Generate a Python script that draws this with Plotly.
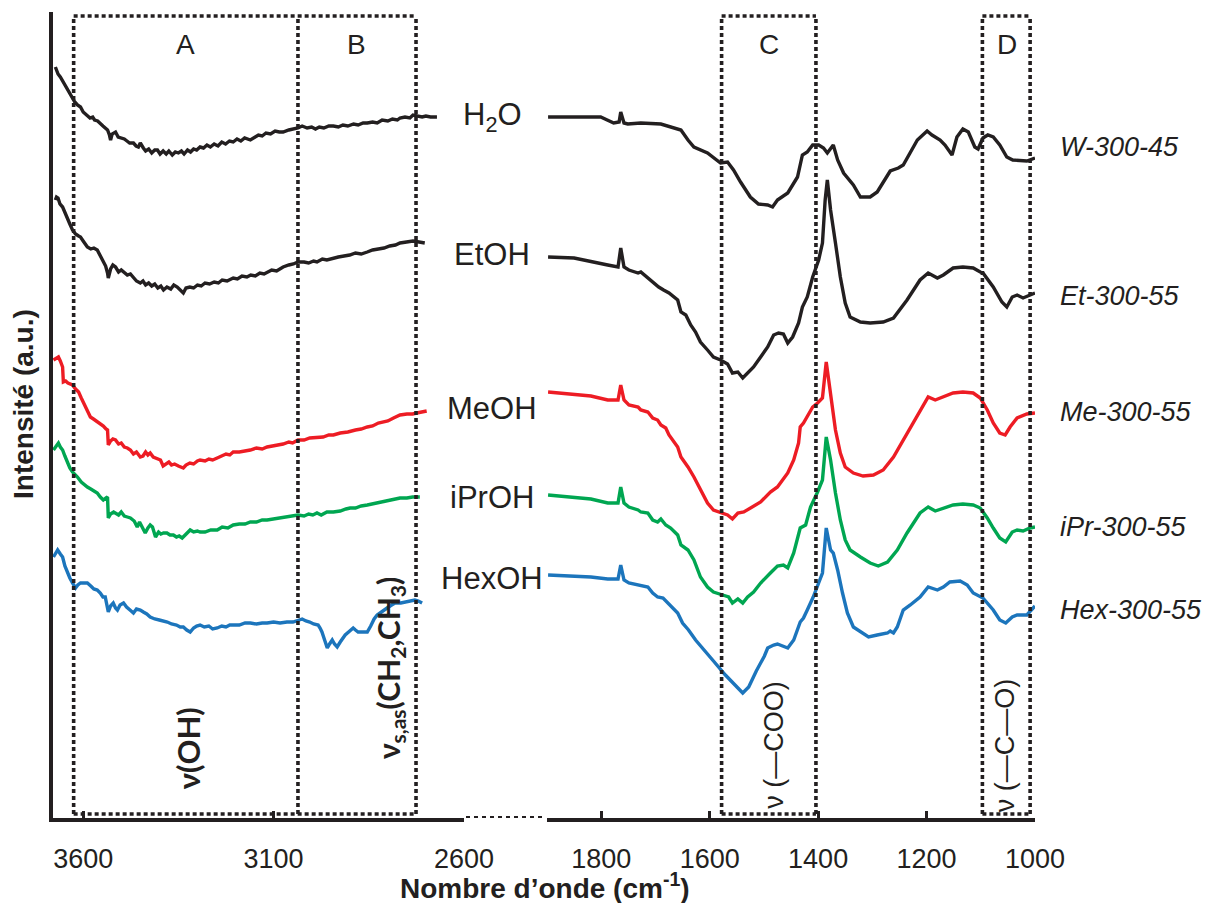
import plotly.graph_objects as go

# ---------------- data: left panel, (wavenumber cm-1, intensity a.u.) readings ----------------
w_left = [(3673, 751), (3670, 748), (3666, 744), (3660, 741), (3654, 737), (3648, 733), (3640, 728),
          (3634, 725), (3628, 721), (3622, 716), (3615, 713), (3607, 711), (3600, 706), (3594, 704),
          (3589, 703), (3582, 700), (3575, 701), (3570, 698), (3562, 697), (3555, 695), (3548, 692),
          (3542, 690), (3536, 688), (3531, 683), (3528, 678), (3524, 684), (3515, 686), (3508, 681),
          (3500, 680), (3492, 679), (3485, 677), (3478, 675), (3468, 675), (3461, 672), (3455, 671),
          (3450, 675), (3442, 670), (3436, 667), (3428, 669), (3420, 665), (3412, 668), (3405, 668),
          (3398, 664), (3390, 667), (3382, 664), (3375, 667), (3366, 663), (3358, 666), (3350, 665),
          (3342, 667), (3335, 664), (3326, 668), (3318, 666), (3310, 669), (3302, 668), (3293, 671),
          (3284, 670), (3275, 673), (3266, 671), (3256, 674), (3246, 672), (3236, 676), (3226, 674),
          (3216, 677), (3206, 676), (3196, 679), (3186, 677), (3176, 680), (3161, 678), (3150, 681),
          (3140, 683), (3130, 682), (3120, 685), (3108, 684), (3096, 687), (3085, 686), (3075, 686),
          (3060, 688), (3050, 689), (3036, 690), (3025, 692), (3012, 690), (3000, 691), (2990, 689),
          (2980, 691), (2968, 690), (2955, 692), (2943, 692), (2930, 691), (2918, 693), (2905, 692),
          (2890, 694), (2878, 693), (2865, 695), (2854, 695), (2840, 696), (2828, 695), (2815, 698),
          (2800, 697), (2788, 699), (2775, 698), (2768, 700), (2755, 701), (2742, 700), (2734, 703),
          (2722, 702), (2710, 701), (2700, 702), (2688, 701), (2671, 701)]

et_left = [(3673, 618), (3670, 621), (3666, 620), (3661, 614), (3654, 611), (3648, 605), (3641, 598),
           (3635, 594), (3628, 588), (3620, 584), (3612, 582), (3607, 581), (3600, 577), (3594, 574),
           (3589, 571), (3580, 569), (3572, 570), (3563, 568), (3556, 563), (3547, 558), (3541, 552),
           (3536, 545), (3534, 540), (3528, 549), (3522, 553), (3515, 551), (3507, 546), (3500, 548),
           (3492, 545), (3484, 543), (3476, 544), (3468, 540), (3460, 537), (3450, 535), (3443, 537),
           (3436, 533), (3428, 535), (3420, 532), (3412, 534), (3404, 530), (3396, 532), (3389, 528),
           (3380, 531), (3370, 529), (3362, 533), (3353, 531), (3345, 528), (3337, 525), (3330, 530),
           (3320, 531), (3310, 530), (3300, 533), (3290, 532), (3280, 535), (3268, 534), (3256, 536),
           (3245, 535), (3235, 538), (3222, 537), (3206, 540), (3195, 539), (3183, 542), (3170, 541),
           (3160, 543), (3148, 542), (3136, 545), (3125, 544), (3117, 546), (3105, 548), (3092, 547),
           (3075, 551), (3060, 553), (3048, 554), (3036, 556), (3020, 556), (3008, 555), (2995, 557),
           (2986, 556), (2972, 559), (2960, 558), (2943, 560), (2930, 561), (2915, 562), (2900, 563),
           (2885, 565), (2870, 564), (2854, 566), (2840, 568), (2825, 569), (2810, 570), (2795, 572),
           (2780, 573), (2768, 575), (2752, 576), (2734, 577), (2718, 576), (2703, 575)]

me_left = [(3678, 458), (3672, 459), (3665, 461), (3660, 457), (3654, 451), (3652, 436), (3646, 437),
           (3640, 435), (3634, 434), (3628, 433), (3620, 429), (3612, 426), (3605, 420), (3599, 415),
           (3592, 410), (3587, 406), (3581, 401), (3573, 399), (3565, 397), (3555, 395), (3547, 392),
           (3540, 389), (3536, 388), (3534, 373), (3528, 377), (3522, 379), (3515, 378), (3507, 374),
           (3500, 375), (3492, 371), (3484, 370), (3476, 368), (3468, 364), (3460, 366), (3450, 361),
           (3443, 362), (3436, 366), (3430, 363), (3424, 365), (3416, 361), (3408, 360), (3400, 359),
           (3397, 358), (3390, 352), (3383, 354), (3375, 356), (3368, 353), (3360, 354), (3350, 352),
           (3342, 351), (3337, 350), (3330, 353), (3320, 355), (3310, 354), (3300, 357), (3293, 358),
           (3280, 357), (3270, 359), (3260, 358), (3248, 360), (3236, 362), (3225, 364), (3215, 363),
           (3206, 366), (3190, 366), (3175, 367), (3161, 368), (3145, 370), (3130, 369), (3117, 371),
           (3100, 372), (3090, 373), (3075, 374), (3060, 376), (3050, 375), (3036, 378), (3020, 378),
           (3005, 380), (2986, 381), (2970, 381), (2955, 383), (2943, 383), (2925, 385), (2905, 386),
           (2885, 388), (2870, 389), (2854, 391), (2840, 392), (2825, 395), (2812, 396), (2800, 397),
           (2785, 400), (2768, 403), (2750, 404), (2735, 404), (2724, 405), (2710, 406), (2698, 407)]

ipr_left = [(3678, 368), (3672, 372), (3665, 375), (3660, 371), (3654, 368), (3648, 362), (3641, 355),
            (3635, 350), (3628, 346), (3620, 343), (3615, 341), (3605, 336), (3597, 333), (3589, 331),
            (3580, 329), (3572, 327), (3563, 325), (3555, 321), (3547, 318), (3540, 320), (3536, 321),
            (3534, 300), (3528, 304), (3520, 306), (3515, 305), (3507, 303), (3500, 306), (3492, 302),
            (3484, 301), (3476, 300), (3466, 297), (3458, 291), (3452, 296), (3446, 291), (3437, 285),
            (3430, 290), (3424, 293), (3418, 291), (3410, 281), (3402, 286), (3396, 284), (3389, 285),
            (3380, 285), (3372, 283), (3363, 283), (3355, 281), (3348, 282), (3340, 280), (3330, 284),
            (3319, 288), (3310, 286), (3300, 287), (3293, 286), (3280, 286), (3265, 288), (3248, 288),
            (3235, 291), (3220, 290), (3206, 293), (3190, 294), (3175, 294), (3161, 296), (3145, 296),
            (3130, 298), (3117, 298), (3100, 299), (3088, 300), (3075, 300), (3060, 301), (3048, 302),
            (3036, 303), (3020, 302), (3008, 304), (2997, 303), (2986, 305), (2975, 303), (2960, 306),
            (2943, 306), (2925, 307), (2910, 309), (2899, 310), (2885, 310), (2870, 312), (2854, 313),
            (2840, 314), (2825, 315), (2812, 316), (2795, 318), (2780, 319), (2768, 320), (2750, 320),
            (2735, 321), (2716, 321)]

hex_left = [(3678, 261), (3672, 265), (3667, 268), (3660, 264), (3654, 261), (3648, 252), (3641, 245),
            (3635, 240), (3628, 235), (3620, 230), (3614, 233), (3607, 235), (3598, 235), (3589, 235),
            (3580, 232), (3572, 229), (3563, 228), (3555, 225), (3548, 221), (3542, 221), (3534, 206),
            (3528, 212), (3521, 215), (3515, 210), (3510, 208), (3503, 213), (3494, 215), (3486, 211),
            (3477, 208), (3468, 205), (3460, 209), (3450, 208), (3442, 206), (3433, 204), (3424, 201),
            (3412, 199), (3400, 198), (3390, 197), (3379, 196), (3368, 194), (3355, 193), (3345, 191),
            (3337, 191), (3328, 188), (3319, 186), (3310, 190), (3302, 192), (3293, 193), (3282, 191),
            (3270, 192), (3260, 189), (3248, 190), (3236, 192), (3225, 191), (3215, 193), (3206, 193),
            (3190, 193), (3175, 195), (3161, 195), (3145, 194), (3130, 195), (3117, 195), (3100, 196),
            (3083, 195), (3065, 196), (3049, 196), (3035, 198), (3025, 199), (3015, 197), (3005, 196),
            (2995, 194), (2983, 193), (2978, 190), (2973, 186), (2966, 178), (2959, 170), (2953, 174),
            (2946, 178), (2940, 174), (2933, 171), (2925, 176), (2912, 183), (2900, 187), (2891, 190),
            (2885, 188), (2878, 186), (2866, 186), (2854, 186), (2845, 192), (2836, 199), (2828, 203),
            (2815, 207), (2802, 210), (2790, 213), (2781, 215), (2766, 215), (2750, 216), (2740, 217),
            (2729, 218), (2720, 217), (2710, 215)]

# ---------------- data: right panel ----------------
wn_w_right = [1898, 1850, 1801, 1777, 1767, 1764, 1758, 1751, 1727, 1690, 1666, 1653, 1640, 1629, 1604,
              1580, 1567, 1556, 1543, 1525, 1510, 1493, 1484, 1475, 1456, 1438, 1429, 1420, 1410, 1399,
              1390, 1383, 1372, 1364, 1353, 1335, 1322, 1304, 1291, 1267, 1252, 1243, 1217, 1199, 1190,
              1175, 1166, 1153, 1144, 1133, 1123, 1111, 1105, 1096, 1087, 1077, 1065, 1052, 1041, 1015,
              1000]
int_w_right = [701, 701, 701, 695, 696, 706, 695, 694, 695, 694, 690, 688, 678, 671, 665,
               655, 656, 648, 636, 621, 614, 613, 611, 618, 625, 641, 663, 666, 673, 673,
               670, 665, 673, 658, 645, 633, 621, 621, 626, 647, 650, 653, 678, 687, 683,
               678, 673, 663, 681, 689, 686, 671, 669, 680, 683, 681, 673, 661, 658, 657,
               660]

wn_et_right = [1898, 1850, 1788, 1769, 1764, 1758, 1749, 1732, 1727, 1714, 1703, 1694, 1685, 1675, 1659,
               1653, 1644, 1635, 1626, 1617, 1604, 1593, 1580, 1567, 1558, 1548, 1539, 1530, 1519, 1506,
               1493, 1482, 1473, 1464, 1456, 1447, 1436, 1429, 1420, 1410, 1399, 1392, 1387, 1383, 1377,
               1368, 1359, 1350, 1341, 1322, 1304, 1280, 1261, 1236, 1212, 1197, 1180, 1169, 1151, 1133,
               1114, 1101, 1096, 1077, 1061, 1052, 1042, 1033, 1022, 1009, 1000]
int_et_right = [561, 560, 553, 551, 570, 551, 548, 545, 546, 540, 536, 531, 528, 525, 518,
                506, 503, 493, 486, 476, 468, 461, 458, 454, 445, 446, 440, 445, 451, 461,
                471, 483, 485, 484, 475, 481, 495, 511, 521, 541, 558, 575, 618, 638, 608,
                575, 541, 515, 501, 496, 495, 496, 500, 518, 538, 545, 540, 543, 550, 551,
                550, 546, 545, 531, 516, 511, 521, 523, 520, 523, 525]

wn_me_right = [1898, 1850, 1819, 1788, 1769, 1764, 1758, 1749, 1732, 1727, 1714, 1705, 1696, 1690, 1681,
               1675, 1666, 1659, 1653, 1640, 1629, 1617, 1604, 1593, 1576, 1567, 1558, 1548, 1537, 1525,
               1506, 1488, 1475, 1456, 1445, 1436, 1433, 1427, 1420, 1410, 1401, 1392, 1385, 1377, 1368,
               1359, 1350, 1335, 1317, 1298, 1280, 1261, 1236, 1212, 1197, 1184, 1169, 1151, 1133, 1114,
               1101, 1088, 1077, 1065, 1055, 1046, 1033, 1015, 1000]
int_me_right = [426, 424, 422, 418, 418, 433, 418, 413, 411, 408, 406, 400, 398, 393, 390,
                383, 376, 371, 361, 351, 341, 328, 315, 308, 305, 303, 299, 305, 306, 310,
                316, 326, 331, 345, 358, 375, 391, 395, 401, 411, 415, 420, 456, 425, 388,
                365, 351, 345, 342, 343, 348, 361, 385, 408, 421, 418, 421, 425, 426, 425,
                420, 408, 395, 385, 383, 391, 400, 404, 405]

wn_ipr_right = [1898, 1850, 1819, 1788, 1769, 1764, 1758, 1749, 1732, 1727, 1714, 1705, 1696, 1690, 1681,
                1672, 1659, 1653, 1640, 1629, 1617, 1604, 1593, 1576, 1565, 1558, 1548, 1539, 1530, 1519,
                1506, 1488, 1475, 1464, 1456, 1445, 1436, 1433, 1423, 1414, 1401, 1392, 1385, 1377, 1368,
                1359, 1350, 1341, 1322, 1304, 1289, 1272, 1254, 1236, 1212, 1197, 1184, 1169, 1151, 1133,
                1114, 1101, 1088, 1077, 1065, 1054, 1042, 1033, 1022, 1009, 1000]
int_ipr_right = [323, 321, 319, 315, 315, 331, 315, 311, 308, 306, 305, 298, 296, 299, 293,
                 290, 283, 273, 268, 258, 241, 231, 226, 223, 221, 215, 219, 215, 221, 226,
                 235, 245, 252, 253, 250, 265, 285, 290, 293, 311, 326, 338, 381, 358, 325,
                 298, 278, 268, 261, 255, 252, 256, 268, 285, 305, 311, 307, 310, 313, 314,
                 313, 310, 300, 290, 280, 276, 286, 288, 287, 290, 291]

wn_hex_right = [1898, 1850, 1819, 1788, 1769, 1764, 1758, 1749, 1732, 1714, 1705, 1696, 1686, 1677, 1668,
                1659, 1650, 1639, 1626, 1611, 1593, 1571, 1552, 1539, 1528, 1514, 1499, 1493, 1482, 1475,
                1456, 1445, 1433, 1427, 1420, 1409, 1399, 1392, 1385, 1377, 1372, 1364, 1355, 1346, 1335,
                1322, 1307, 1291, 1272, 1267, 1261, 1254, 1243, 1230, 1212, 1197, 1180, 1169, 1157, 1138,
                1125, 1114, 1096, 1077, 1065, 1054, 1042, 1033, 1015, 1000]
int_hex_right = [243, 242, 241, 239, 239, 253, 238, 235, 233, 231, 225, 221, 220, 215, 210,
                 205, 195, 188, 178, 168, 157, 143, 133, 125, 131, 147, 162, 170, 173, 174,
                 170, 178, 196, 200, 208, 221, 235, 245, 290, 268, 265, 248, 225, 205, 191,
                 186, 181, 183, 185, 187, 185, 191, 208, 213, 221, 231, 228, 231, 236, 237,
                 233, 225, 220, 208, 198, 195, 201, 203, 203, 212]

solvents = ["H<sub>2</sub>O", "EtOH", "MeOH", "iPrOH", "HexOH"]
samples = ["W-300-45", "Et-300-55", "Me-300-55", "iPr-300-55", "Hex-300-55"]
colors = ["#231f20", "#231f20", "#ed1c24", "#00a651", "#1c75bc"]

left_tickvals = [3600, 3100, 2600]
right_tickvals = [1800, 1600, 1400, 1200, 1000]

# region boxes (cm-1)
box_A = (3625, 3036)
box_B = (3036, 2726)
box_C = (1578, 1404)
box_D = (1097, 1009)
box_top, box_bot = 802, 4

left_series = [list(zip(*s)) for s in (w_left, et_left, me_left, ipr_left, hex_left)]
right_series = [(wn_w_right, int_w_right), (wn_et_right, int_et_right), (wn_me_right, int_me_right),
                (wn_ipr_right, int_ipr_right), (wn_hex_right, int_hex_right)]

W, H = 1212, 903
INK = "#231f20"
FONT = "Liberation Sans, Arial, sans-serif"

fig = go.Figure()
for (x, y), c, name in zip(left_series, colors, samples):
    fig.add_trace(go.Scatter(x=list(x), y=list(y), mode="lines", line=dict(color=c, width=3.4),
                             xaxis="x", yaxis="y", name=name, showlegend=False))
for (x, y), c, name in zip(right_series, colors, samples):
    fig.add_trace(go.Scatter(x=x, y=y, mode="lines", line=dict(color=c, width=3.4),
                             xaxis="x2", yaxis="y", name=name, showlegend=False))

dom_l = [52.7 / W, 464 / W]
dom_r = [547 / W, 1035 / W]
axis_common = dict(showgrid=False, zeroline=False, showline=True, linecolor=INK, linewidth=4,
                   ticks="inside", ticklen=7, tickwidth=3, tickcolor=INK, automargin=False,
                   ticklabelstandoff=14,
                   tickfont=dict(family=FONT, size=27, color=INK), anchor="y")
fig.update_layout(
    width=W, height=H, margin=dict(l=0, r=0, t=0, b=0, pad=0, autoexpand=False),
    paper_bgcolor="white", plot_bgcolor="white",
    xaxis=dict(domain=dom_l, range=[3680, 2600], tickvals=left_tickvals, **axis_common),
    xaxis2=dict(domain=dom_r, range=[1900, 1000], tickvals=right_tickvals, **axis_common),
    yaxis=dict(domain=[85 / H, 1 - 12 / H], range=[0, 806], showgrid=False, zeroline=False,
               showline=True, linecolor=INK, linewidth=4, showticklabels=False, ticks="",
               automargin=False),
)

dot = dict(color=INK, width=3.6, dash="4px,3px")
shapes = []
def vline(xref, x):
    shapes.append(dict(type="line", xref=xref, yref="y", x0=x, x1=x, y0=box_bot, y1=box_top, line=dot))
def hline(xref, xa, xb, y):
    shapes.append(dict(type="line", xref=xref, yref="y", x0=xa, x1=xb, y0=y, y1=y, line=dot))

vline("x", box_A[0]); vline("x", box_A[1]); vline("x", box_B[1])
hline("x", box_A[0], box_B[1], box_top); hline("x", box_A[0], box_B[1], box_bot)
vline("x2", box_C[0]); vline("x2", box_C[1])
hline("x2", box_C[0], box_C[1], box_top); hline("x2", box_C[0], box_C[1], box_bot)
vline("x2", box_D[0]); vline("x2", box_D[1])
hline("x2", box_D[0], box_D[1], box_top); hline("x2", box_D[0], box_D[1], box_bot)
# axis break
shapes.append(dict(type="line", xref="paper", yref="y", x0=466 / W, x1=545 / W, y0=0, y1=0,
                   line=dict(color=INK, width=4, dash="4px,4px")))
fig.update_layout(shapes=shapes)

C = dict(xanchor="center", yanchor="middle", showarrow=False)
ann = []
for lab, xr, xv in [("A", "x", 3332), ("B", "x", 2883), ("C", "x2", 1491), ("D", "x2", 1052)]:
    ann.append(dict(text=lab, xref=xr, yref="y", x=xv, y=773,
                    font=dict(family=FONT, size=28, color=INK), **C))

solvent_y = [117, 255, 408, 498, 578]
for t, py in zip(solvents, solvent_y):
    ann.append(dict(text=t, xref="paper", yref="paper", x=492 / W, y=1 - py / H,
                    font=dict(family=FONT, size=31, color=INK), **C))

sample_y = [147, 296, 412, 527, 610]
for t, py in zip(samples, sample_y):
    ann.append(dict(text="<i>" + t + "</i>", xref="paper", yref="paper", x=1058 / W, y=1 - py / H,
                    showarrow=False, xanchor="left", yanchor="middle",
                    font=dict(family=FONT, size=27, color=INK)))

BOLD = "Lato, Liberation Sans, sans-serif"
ann += [
    dict(text="<b>ν(OH)</b>", xref="x", yref="y", x=3324, y=70, textangle=-90,
         font=dict(family=BOLD, size=31, color=INK), **C),
    dict(text="<b>ν<sub>s,as</sub>(CH<sub>2</sub>,CH<sub>3</sub>)</b>", xref="x", yref="y", x=2794, y=150,
         textangle=-90, font=dict(family=BOLD, size=30, color=INK), **C),
    dict(text="ν (—COO)", xref="x2", yref="y", x=1482, y=73, textangle=-90,
         font=dict(family=FONT, size=27, color=INK), **C),
    dict(text="ν (—C—O)", xref="x2", yref="y", x=1055, y=72, textangle=-90,
         font=dict(family=FONT, size=27, color=INK), **C),
    dict(text="<b>Intensité (a.u.)</b>", xref="paper", yref="paper", x=23 / W, y=1 - 404 / H,
         textangle=-90, font=dict(family=FONT, size=28, color=INK), **C),
    dict(text="<b>Nombre d’onde (cm<sup>-1</sup>)</b>", xref="paper", yref="paper", x=545 / W,
         y=1 - 886 / H, font=dict(family=FONT, size=28, color=INK), **C),
]
fig.update_layout(annotations=ann)

fig.write_html("out.html", config={"displayModeBar": False},
               post_script="document.body.style.margin='0px';document.body.style.padding='0px';"
                           "document.documentElement.style.overflow='hidden';")
